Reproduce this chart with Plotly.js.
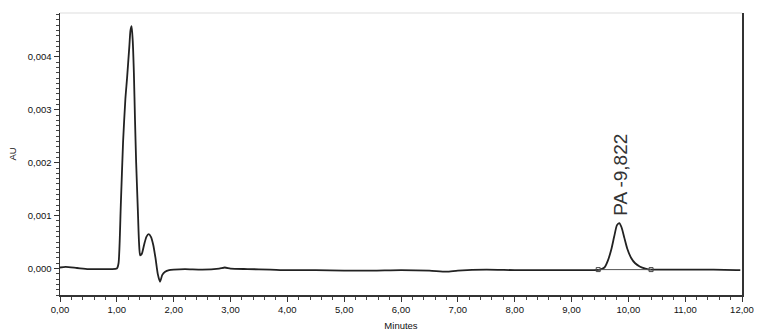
<!DOCTYPE html>
<html>
<head>
<meta charset="utf-8">
<script src="https://cdn.plot.ly/plotly-3.0.1.min.js"></script>
<style>html,body{margin:0;padding:0;background:#fff;}#chart{width:762px;height:336px;}</style>
</head>
<body>
<div id="chart"></div>
<script>
// Retention time (minutes)
var timeMin = [0, 0.1, 0.3, 0.5, 0.7, 0.9, 1.0, 1.03, 1.07, 1.11, 1.15, 1.18, 1.22, 1.24, 1.26, 1.28, 1.30, 1.32, 1.34, 1.37, 1.39, 1.41, 1.44, 1.48, 1.52, 1.56, 1.60, 1.64, 1.68, 1.72, 1.76, 1.80, 1.85, 1.92, 2.0, 2.2, 2.5, 2.8, 2.9, 3.0, 3.3, 3.7, 4.0, 4.5, 5.0, 5.5, 6.0, 6.5, 6.8, 7.0, 7.5, 8.0, 8.5, 9.0, 9.3, 9.5, 9.58, 9.64, 9.70, 9.75, 9.80, 9.84, 9.88, 9.93, 9.98, 10.05, 10.12, 10.20, 10.30, 10.40, 10.6, 11.0, 11.5, 11.9, 11.97];
// Absorbance (AU)
var absAU = [0.00002, 0.00003, 0.00001, -0.00001, -0.00001, -0.00001, 0.0, 0.0001, 0.0012, 0.0024, 0.0032, 0.0036, 0.0042, 0.0045, 0.00458, 0.0043, 0.0037, 0.0028, 0.0020, 0.0011, 0.0005, 0.00025, 0.00028, 0.00045, 0.0006, 0.00065, 0.0006, 0.00045, 0.0002, -0.0001, -0.00025, -0.00012, -0.00006, -0.00003, -0.00002, -0.00001, -0.00002, 0.0, 0.00002, 0.0, -0.00001, -0.00002, -0.00003, -0.00003, -0.00004, -0.00004, -0.00003, -0.00004, -0.00006, -0.00004, -0.00002, -0.00003, -0.00003, -0.00003, -0.00003, -0.00002, 0.00002, 0.00015, 0.00036, 0.0006, 0.00082, 0.00086, 0.00078, 0.00058, 0.00038, 0.0002, 0.0001, 0.00004, 0.0, -0.00002, -0.00002, -0.00002, -0.00002, -0.00003, -0.00003];
// Integration baseline marks of the PA peak
var peakBaseTime = [9.47, 10.40];
var peakBaseAU = [-0.00002, -0.00002];
// Peak label
var peakLabel = "PA -9,822";
var peakLabelTime = 9.86;
var peakLabelAU = 0.00178;
// Axis ticks
var xTicks = [0, 1, 2, 3, 4, 5, 6, 7, 8, 9, 10, 11, 12];
var yTicks = [0, 0.001, 0.002, 0.003, 0.004];

var fontFam = "Liberation Sans, Arial, sans-serif";
var traces = [
  {x: timeMin, y: absAU, type: 'scatter', mode: 'lines', line: {color: '#222', width: 1.8, shape: 'spline', smoothing: 0.6}, hoverinfo: 'skip'},
  {x: peakBaseTime, y: peakBaseAU, type: 'scatter', mode: 'lines+markers', line: {color: '#555', width: 1}, marker: {symbol: 'square-open', size: 4, color: '#444', line: {width: 1}}, hoverinfo: 'skip'}
];
var layout = {
  width: 762, height: 336,
  margin: {l: 60, r: 20, t: 13, b: 41},
  paper_bgcolor: '#fff', plot_bgcolor: '#fff',
  showlegend: false,
  separators: ',.',
  font: {family: fontFam, size: 9, color: '#222'},
  xaxis: {
    range: [0, 12], tickvals: xTicks, tickformat: '.2f',
    showline: true, linecolor: '#333', linewidth: 1.5,
    ticks: 'outside', ticklen: 5, tickcolor: '#333', tickwidth: 1,
    minor: {dtick: 0.2, ticks: 'outside', ticklen: 3, tickcolor: '#444'},
    showgrid: false, zeroline: false,
    tickfont: {family: fontFam, size: 9.5, color: '#111'},
    title: {text: 'Minutes', font: {family: fontFam, size: 9.5, color: '#111'}, standoff: 8}
  },
  yaxis: {
    range: [-0.0005, 0.00483], tickvals: yTicks, tickformat: '.3f',
    showline: true, linecolor: '#333', linewidth: 1.5, mirror: true,
    ticks: 'outside', ticklen: 5, tickcolor: '#333', tickwidth: 1,
    minor: {dtick: 0.0001, ticks: 'outside', ticklen: 3, tickcolor: '#444'},
    showgrid: false, zeroline: false,
    tickfont: {family: fontFam, size: 9.5, color: '#111'},
    title: {text: 'AU', font: {family: fontFam, size: 9.5, color: '#111'}, standoff: 9}
  },
  shapes: [
    {type: 'line', xref: 'paper', yref: 'paper', x0: 0, x1: 1, y0: 1, y1: 1, line: {color: '#ddd', width: 1}}
  ],
  annotations: [
    {x: peakLabelTime, y: peakLabelAU, xref: 'x', yref: 'y', text: peakLabel, showarrow: false, textangle: -90, xanchor: 'center', yanchor: 'middle', font: {family: fontFam, size: 19, color: '#333'}}
  ]
};
Plotly.newPlot('chart', traces, layout, {displayModeBar: false, staticPlot: true});
</script>
</body>
</html>
